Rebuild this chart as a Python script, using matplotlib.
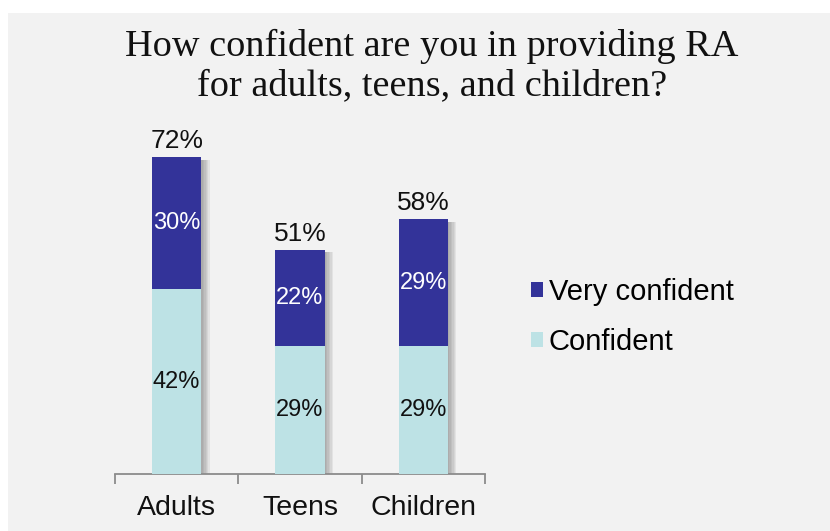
import matplotlib
matplotlib.use('Agg')
import matplotlib.pyplot as plt
import matplotlib.patheffects as pe
from matplotlib.patches import Rectangle, Patch

categories = ['Adults', 'Teens', 'Children']
confident = [42, 29, 29]
very_confident = [30, 22, 29]
totals = [72, 51, 58]

dark = '#333399'
light = '#bde2e5'
sans = ['Liberation Sans', 'DejaVu Sans']

fig = plt.figure(figsize=(8.3, 5.31), dpi=100, facecolor='white')
# grey panel behind everything
fig.patches.append(Rectangle((8 / 830, 0), 1, 1 - 13 / 531, transform=fig.transFigure,
                             facecolor='#f2f2f2', edgecolor='none', zorder=-5))

ax = fig.add_axes([115 / 830, 57 / 531, 370 / 830, 352 / 531])
ax.set_facecolor('none')
ax.set_zorder(2)

x = range(len(categories))

# soft drop shadow: full-height bars that draw only their shadow layers
soft = [pe.SimplePatchShadow(offset=(d, -2), shadow_rgbFace='#555555', alpha=0.09)
        for d in (1, 2, 3, 4, 5, 6)]
sb = ax.bar(x, totals, width=0.4, color='none', zorder=2)
for p in sb:
    p.set_path_effects(soft)

b1 = ax.bar(x, confident, width=0.4, color=light, zorder=3)
b2 = ax.bar(x, very_confident, width=0.4, bottom=confident, color=dark, zorder=3)

for i in x:
    ax.text(i, confident[i] / 2, f'{confident[i]}%', ha='center', va='center',
            fontsize=17, color='#111111', family=sans, zorder=4)
    ax.text(i, confident[i] + very_confident[i] / 2, f'{very_confident[i]}%', ha='center',
            va='center', fontsize=17, color='white', family=sans, zorder=4)
    ax.text(i, totals[i] + 0.9, f'{totals[i]}%', ha='center', va='bottom',
            fontsize=19, color='#111111', family=sans, zorder=4)

ax.set_xlim(-0.5, 2.5)
ax.set_ylim(0, 80)
for s in ['top', 'right', 'left']:
    ax.spines[s].set_visible(False)
ax.spines['bottom'].set_color('#8c8c8c')
ax.spines['bottom'].set_linewidth(1.3)
ax.set_yticks([])
ax.set_xticks(list(x))
ax.set_xticklabels(categories, fontsize=20.5, family=sans, color='#111111')
ax.set_xticks([-0.5, 0.5, 1.5, 2.5], minor=True)
ax.tick_params(axis='x', which='major', length=0, pad=15)
ax.tick_params(axis='x', which='minor', length=7, width=1.3, color='#8c8c8c')

fig.text(0.52, 1 - 66 / 531, 'How confident are you in providing RA\nfor adults, teens, and children?',
         ha='center', va='center', fontsize=27.5, family=['Liberation Serif', 'DejaVu Serif'],
         color='#111111', linespacing=1.2)

handles = [Patch(facecolor=dark, edgecolor='none'), Patch(facecolor=light, edgecolor='none')]
fig.legend(handles=handles, labels=['Very confident', 'Confident'], loc='center left',
           bbox_to_anchor=(505 / 830, 1 - 317 / 531), frameon=False,
           prop={'family': sans, 'size': 21}, handlelength=0.4, handleheight=0.4,
           handletextpad=0.2, labelspacing=0.75)

fig.savefig('out.png', dpi=100, facecolor='white')
